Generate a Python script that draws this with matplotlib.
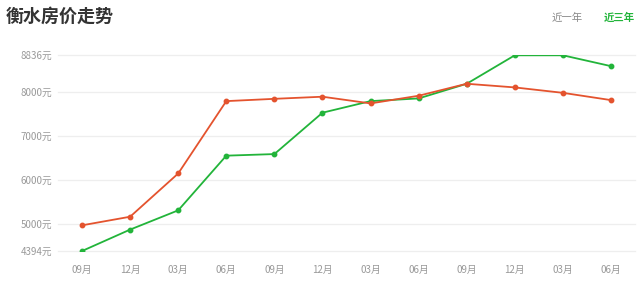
import matplotlib
matplotlib.use("Agg")
import matplotlib.pyplot as plt

plt.rcParams['font.family'] = ['Noto Sans CJK SC', 'DejaVu Sans']

months = ["09月", "12月", "03月", "06月", "09月", "12月", "03月", "06月", "09月", "12月", "03月", "06月"]
red_values = [4977, 5172, 6154, 7796, 7848, 7896, 7744, 7918, 8190, 8107, 7984, 7819]
green_values = [4394, 4880, 5317, 6558, 6594, 7533, 7796, 7857, 8190, 8836, 8836, 8590]
y_ticks = [4394, 5000, 6000, 7000, 8000, 8836]
y_labels = ["4394元", "5000元", "6000元", "7000元", "8000元", "8836元"]

red = '#e4532e'
green = '#22b43a'

fig = plt.figure(figsize=(6.4, 2.84), dpi=100)
ax = fig.add_axes([58/640, 33/284, 577/640, 195.7/284])
x = list(range(len(months)))
ax.plot(x, green_values, color=green, lw=1.3, marker='o', ms=3.2, zorder=3)
ax.plot(x, red_values, color=red, lw=1.3, marker='o', ms=3.2, zorder=4)

ax.set_xlim(-0.5, len(months) - 0.5)
ax.set_ylim(4394, 8836)
ax.set_yticks(y_ticks)
ax.set_yticklabels(y_labels)
ax.set_xticks(x)
ax.set_xticklabels(months)
for s in ax.spines.values():
    s.set_visible(False)
ax.tick_params(axis='both', length=0, labelsize=7, colors='#999999')
ax.tick_params(axis='y', pad=4)
ax.tick_params(axis='x', pad=10)
for yt in y_ticks:
    ax.axhline(yt, color='#eeeeee', lw=0.9, zorder=0, clip_on=False)

fig.text(6/640, 1 - 16/284, "衡水房价走势", fontsize=13, fontweight='bold', color='#333333', va='center', ha='left')
fig.text(567/640, 1 - 18/284, "近一年", fontsize=7.5, color='#888888', va='center', ha='center')
fig.text(619/640, 1 - 18/284, "近三年", fontsize=7.5, fontweight='bold', color=green, va='center', ha='center')

fig.savefig("out.png", dpi=100)
